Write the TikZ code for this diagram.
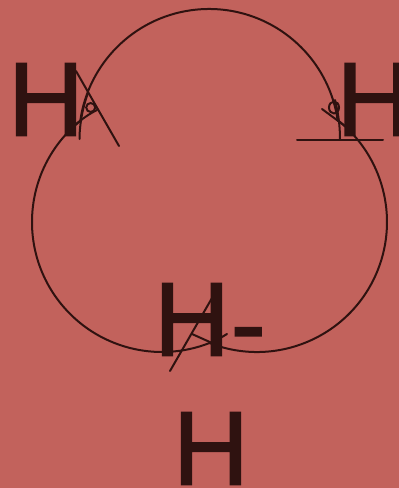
\documentclass[tikz,border=0pt]{standalone}
\usepackage{fontspec}
\setmainfont[FakeBold=1.5]{Liberation Sans}
\definecolor{bg}{HTML}{C2625C}
\definecolor{ink}{HTML}{2F1210}
\tikzset{
  atom/.style={anchor=base west,inner sep=0pt,outer sep=0pt,text=ink,font=\fontsize{105pt}{105pt}\selectfont},
  bond/.style={draw=ink,line width=2pt,line cap=round},
}
\begin{document}
\begin{tikzpicture}[x=1pt,y=-1pt]
\useasboundingbox (0,0) rectangle (399,488);
\clip (0,0) rectangle (399,488);
\fill[bg] (0,0) rectangle (399,488);
% outer lobes
\draw[bond] (162,222) ++(129:130pt) arc[start angle=129,end angle=291.4,radius=130pt];
\draw[bond] (209,139) ++(8:130pt) arc[start angle=8,end angle=172,radius=130pt];
\draw[bond] (257,222) ++(248.6:130pt) arc[start angle=248.6,end angle=411,radius=130pt];
% left marks
\draw[bond] (76,71) -- (119,146);
\draw[bond] (75,125) .. controls (82,119) and (89,114) .. (97,110);
\draw[bond] (79.5,139) .. controls (79.5,124) and (83,106) .. (88,93);
\draw[bond] (90.7,107.5) circle[x radius=4.5pt,y radius=4.5pt];
% right marks
\draw[bond] (297,139.5) -- (383,139.5);
\draw[bond] (322,109) -- (345,126);
\draw[bond] (340,139) .. controls (340,125) and (338,112) .. (335,100);
\draw[bond] (334,107.5) circle[x radius=5pt,y radius=6pt];
% bottom marks
\draw[bond] (170,371) -- (212,298);
\draw[bond] (192,334) -- (212,343) -- (227,334);
% atoms
\node[atom] (hl) at (8,135.7) {H};
\node[atom] (hr) at (336.5,135.7) {H};
\node[atom] (hm) at (154,355.7) {H\kern1pt\raisebox{-4pt}{-}};
\node[atom] (hb) at (173,484.7) {H};
\end{tikzpicture}
\end{document}
